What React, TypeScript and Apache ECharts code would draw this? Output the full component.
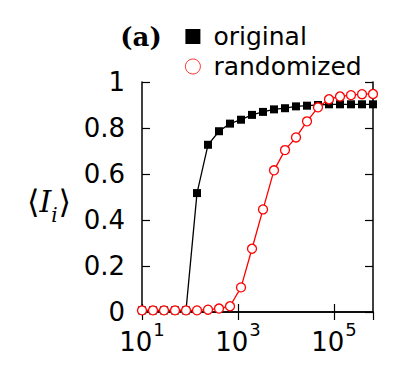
import React, { useEffect, useRef } from "react";
import * as echarts from "echarts";

// x positions (log-spaced sizes)
const xValues = [
  10, 16.95, 28.73, 48.71, 82.56, 140.0, 237.3, 402.2, 681.8, 1156, 1959, 3321,
  5629, 9541, 16174, 27416, 46484, 78786, 133566, 226355, 383707, 650331,
];
const originalValues = [
  0.007, 0.007, 0.007, 0.007, 0.007, 0.517, 0.727, 0.786, 0.819, 0.836, 0.857,
  0.87, 0.881, 0.886, 0.894, 0.897, 0.9, 0.903, 0.903, 0.903, 0.903, 0.903,
];
const randomizedValues = [
  0.007, 0.007, 0.007, 0.007, 0.007, 0.007, 0.01, 0.015, 0.025, 0.107, 0.275,
  0.446, 0.616, 0.704, 0.759, 0.829, 0.89, 0.925, 0.937, 0.943, 0.947, 0.948,
];
const seriesNames = ["original", "randomized"];
const panelLabel = "(a)";

const SANS = "DejaVu Sans";
const SERIF = "DejaVu Serif";

export default function App() {
  const ref = useRef<HTMLDivElement>(null);
  useEffect(() => {
    if (!ref.current) return;
    const chart = echarts.init(ref.current, null, { renderer: "svg" });
    const xMin = xValues[0];
    const xMax = xValues[xValues.length - 1];
    const axisLine = { show: true, lineStyle: { color: "#000", width: 1.5 } };
    const tick = { show: true, inside: true, length: 8, lineStyle: { color: "#000", width: 1.2 } };
    chart.setOption({
      animation: false,
      backgroundColor: "#fff",
      grid: { left: 142, right: 34, top: 82, bottom: 57, containLabel: false },
      legend: {
        orient: "vertical",
        left: 180,
        top: 19,
        itemWidth: 15,
        itemHeight: 15,
        itemGap: 5,
        textStyle: { fontFamily: SANS, fontSize: 25, color: "#000", lineHeight: 25, padding: [0, 0, 0, 8] },
        data: [
          { name: seriesNames[0], icon: "rect", itemStyle: { color: "#000", borderWidth: 0 } },
          { name: seriesNames[1], icon: "circle", itemStyle: { color: "#fff", borderColor: "#ff0000", borderWidth: 0.8 } },
        ],
      },
      xAxis: [
        {
          type: "log",
          logBase: 10,
          min: xMin,
          max: xMax,
          interval: 2,
          position: "bottom",
          axisLine,
          axisTick: tick,
          splitLine: { show: false },
          minorTick: { show: false },
          axisLabel: {
            margin: 17,
            showMaxLabel: false,
            formatter: (v: number) => {
              const e = Math.round(Math.log10(v));
              return `{b|10}{s|${e}}`;
            },
            rich: {
              b: { fontFamily: SANS, fontSize: 26, lineHeight: 26, color: "#000", verticalAlign: "bottom" },
              s: { fontFamily: SANS, fontSize: 18, lineHeight: 18, color: "#000", verticalAlign: "bottom", padding: [0, 0, 17, 1] },
            },
          },
        },
        {
          type: "log",
          logBase: 10,
          min: xMin,
          max: xMax,
          interval: 2,
          position: "top",
          axisLine,
          axisTick: tick,
          axisLabel: { show: false },
          splitLine: { show: false },
        },
      ],
      yAxis: [
        {
          type: "value",
          min: 0,
          max: 1,
          interval: 0.2,
          position: "left",
          axisLine,
          axisTick: tick,
          splitLine: { show: false },
          axisLabel: { margin: 17, fontFamily: SANS, fontSize: 26, color: "#000" },
        },
        {
          type: "value",
          min: 0,
          max: 1,
          interval: 0.2,
          position: "right",
          axisLine,
          axisTick: tick,
          splitLine: { show: false },
          axisLabel: { show: false },
        },
      ],
      series: [
        {
          name: seriesNames[0],
          type: "line",
          xAxisIndex: 0,
          yAxisIndex: 0,
          data: xValues.map((x, i) => [x, originalValues[i]]),
          symbol: "rect",
          symbolSize: 8,
          itemStyle: { color: "#000" },
          lineStyle: { color: "#000", width: 1.3 },
        },
        {
          name: seriesNames[1],
          type: "line",
          xAxisIndex: 0,
          yAxisIndex: 0,
          data: xValues.map((x, i) => [x, randomizedValues[i]]),
          symbol: "circle",
          symbolSize: 9,
          itemStyle: { color: "#fff", borderColor: "#ff0000", borderWidth: 1.3 },
          lineStyle: { color: "#ff0000", width: 1.3 },
        },
      ],
      graphic: [
        {
          type: "text",
          x: 141,
          y: 37,
          style: {
            text: panelLabel,
            fontFamily: SERIF,
            fontWeight: "bold",
            fontSize: 26,
            fill: "#000",
            align: "center",
            verticalAlign: "middle",
          },
        },
        {
          type: "text",
          x: 49,
          y: 203,
          style: {
            text: "{a|⟨}{I|I}{s|i}{a|⟩}",
            align: "center",
            verticalAlign: "middle",
            fontFamily: SERIF,
            fontSize: 30,
            rich: {
              a: { fontFamily: SERIF, fontSize: 32, lineHeight: 34, fill: "#000", verticalAlign: "top" },
              I: { fontFamily: SERIF, fontStyle: "italic", fontSize: 30, lineHeight: 34, fill: "#000", verticalAlign: "top" },
              s: { fontFamily: SERIF, fontStyle: "italic", fontSize: 20, lineHeight: 20, fill: "#000", verticalAlign: "top", padding: [19, 1, 0, 0] },
            },
          },
        },
      ],
    });
    return () => chart.dispose();
  }, []);
  return <div ref={ref} style={{ width: 407, height: 369, position: "absolute", left: 0, top: 0 }} />;
}
